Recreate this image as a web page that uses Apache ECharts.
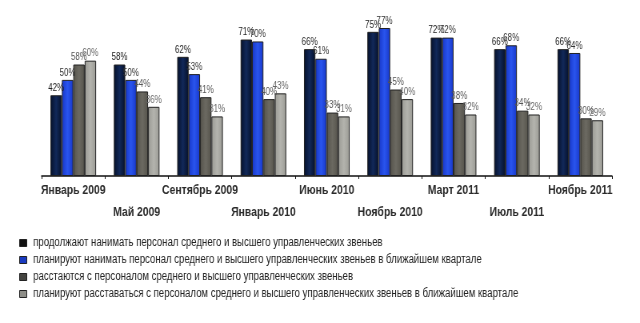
<!DOCTYPE html>
<html><head><meta charset="utf-8">
<script src="https://cdn.jsdelivr.net/npm/echarts@6/dist/echarts.min.js"></script>
<style>html,body{margin:0;padding:0;background:#fff;overflow:hidden}#c{width:800px;height:323px;transform:scaleX(0.8);transform-origin:0 0}</style>
</head><body><div id="c"></div>
<script>
const categories = ['Январь 2009','Май 2009','Сентябрь 2009','Январь 2010','Июнь 2010','Ноябрь 2010','Март 2011','Июль 2011','Ноябрь 2011'];
const seriesNames = [
  'продолжают нанимать персонал среднего и высшего управленческих звеньев',
  'планируют нанимать персонал среднего и высшего управленческих звеньев в ближайшем квартале',
  'расстаются с персоналом среднего и высшего управленческих звеньев',
  'планируют расставаться с персоналом среднего и высшего управленческих звеньев в ближайшем квартале'
];
const continueHiring = [42,58,62,71,66,75,72,66,66];
const planHiring     = [50,50,53,70,61,77,72,68,64];
const layingOff      = [58,44,41,40,33,45,38,34,30];
const planLayingOff  = [60,36,31,43,31,40,32,32,29];

const FONT = '"Liberation Sans",Arial,sans-serif';
function grad(a,b){return new echarts.graphic.LinearGradient(0,0,1,0,[{offset:0,color:a},{offset:0.5,color:b},{offset:1,color:a}]);}
const colors = [grad('#05102a','#12295a'), grad('#1737c8','#2a55ee'), grad('#55534b','#6c6a62'), grad('#9a9a94','#b4b4ae')];
const legendColors = ['#111111','#1a3bc0','#444440','#8e8e88'];
const labelColors = ['#222','#333','#555','#666'];
const data = [continueHiring, planHiring, layingOff, planLayingOff];

const chart = echarts.init(document.getElementById('c'));
chart.setOption({
  animation:false,
  textStyle:{fontFamily:FONT},
  grid:{left:52,right:35,top:3,bottom:147,containLabel:false},
  legend:{
    orient:'vertical', left:19, top:232, itemGap:5, itemWidth:9, itemHeight:7, icon:'rect',
    data: seriesNames.map((n,i)=>({name:n, itemStyle:{color:legendColors[i], borderColor:'#222', borderWidth:1}})),
    textStyle:{fontFamily:FONT,fontSize:12,color:'#222',padding:[0,0,0,3]},
    selectedMode:false
  },
  xAxis:{
    type:'category', data:categories,
    axisLine:{lineStyle:{color:'#111',width:1.5}},
    axisTick:{show:true,length:3,lineStyle:{color:'#111'}},
    axisLabel:{interval:0,hideOverlap:false,margin:3,lineHeight:22,fontSize:13,fontWeight:'bold',color:'#2a2a2a',fontFamily:FONT,
      formatter:(v,i)=> i%2===1 ? ' \n'+v : v}
  },
  yAxis:{type:'value',min:0,max:90,show:false,splitLine:{show:false}},
  series: data.map((d,i)=>({
    name:seriesNames[i], type:'bar', data:d, barGap:'0%', barCategoryGap:'28%',
    itemStyle:{color:colors[i], borderColor:'#222', borderWidth:1},
    label:{show:true,position:'top',distance:2,formatter:'{c}%',fontSize:10,color:labelColors[i],fontFamily:FONT}
  }))
});
</script></body></html>
